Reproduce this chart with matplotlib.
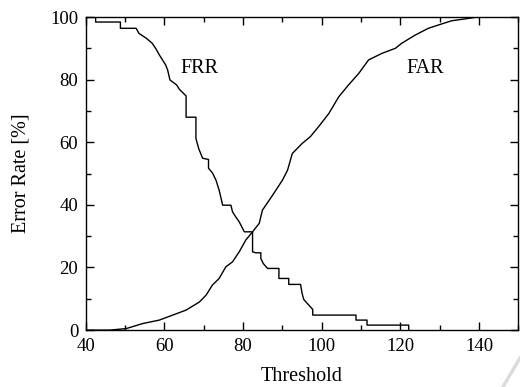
import matplotlib
matplotlib.use("Agg")
import matplotlib.pyplot as plt
from matplotlib.ticker import MultipleLocator
from matplotlib.lines import Line2D

plt.rcParams['font.family'] = ['Liberation Serif', 'DejaVu Serif']

# FRR step curve (threshold, rate %)
frr_x = [40, 42.5, 42.5, 48.8, 48.8, 52.8, 53.5, 55.4, 56.9, 57.9, 58.7, 60.3, 60.8, 61.4, 63.1, 63.8,
         65.5, 65.5, 68.0, 68.0, 68.7, 69.7, 71.2, 71.2, 72.2, 73.1, 73.9, 74.8, 76.9, 77.3, 78.1, 79.0,
         80.3, 82.4, 82.4, 83.2, 84.5, 84.5, 85.1, 86.2, 89.1, 89.1, 91.6, 91.6, 94.6, 95.0, 95.4,
         97.7, 97.7, 98.3, 108.7, 108.7, 111.5, 111.5, 122.1, 122.1]
frr_y = [100, 100, 98.4, 98.4, 96.4, 96.4, 94.8, 93.2, 91.6, 89.7, 87.9, 84.7, 83.1, 79.9, 78.3, 76.9,
         74.8, 68.0, 68.0, 61.2, 58.0, 54.9, 54.5, 51.7, 50.2, 47.9, 44.7, 39.9, 39.9, 37.8, 36.2, 34.6,
         31.4, 31.4, 25.0, 24.7, 24.7, 22.9, 21.3, 19.7, 19.7, 16.5, 16.5, 14.6, 14.6, 11.7, 9.8,
         6.6, 4.8, 4.8, 4.8, 3.2, 3.2, 1.6, 1.6, 0.0]

# FAR curve (threshold, rate %)
far_x = [40, 46.1, 50.3, 54.5, 58.7, 62.1, 65.5, 68.9, 70.6, 72.2, 73.9, 75.6, 77.3, 79.0, 80.7,
         82.4, 84.1, 84.9, 87.5, 90.0, 91.3, 92.5, 95.0, 97.1, 99.2, 101.8, 104.3, 106.8, 109.4,
         111.9, 115.3, 118.7, 120.3, 123.7, 127.1, 130.5, 133.0, 136.4, 139.7, 150]
far_y = [0, 0, 0.5, 2.1, 3.2, 4.8, 6.4, 9.0, 11.2, 14.4, 16.5, 20.2, 21.8, 25.0, 28.8,
         31.4, 34.1, 38.3, 43.1, 47.9, 51.1, 56.4, 59.6, 61.8, 65.0, 69.2, 74.5, 78.3, 82.0,
         86.3, 88.4, 90.0, 91.6, 94.2, 96.4, 97.8, 98.8, 99.4, 100, 100]

fig = plt.figure(figsize=(5.2, 3.87), dpi=100)
ax = fig.add_axes([0.165, 0.147, 0.832, 0.809])

ax.plot(frr_x, frr_y, color='black', lw=1.0)
ax.plot(far_x, far_y, color='black', lw=1.0)

ax.text(69.0, 82.2, 'FRR', fontsize=14.5, ha='center', va='baseline')
ax.text(126.4, 82.2, 'FAR', fontsize=14.5, ha='center', va='baseline')

ax.set_xlim(40, 150)
ax.set_ylim(0, 100)
ax.xaxis.set_major_locator(MultipleLocator(20))
ax.xaxis.set_minor_locator(MultipleLocator(10))
ax.yaxis.set_major_locator(MultipleLocator(20))
ax.yaxis.set_minor_locator(MultipleLocator(10))
ax.tick_params(which='both', direction='in', top=True, right=True, labelsize=13.5, width=1.0)
ax.tick_params(which='major', length=6)
ax.tick_params(which='minor', length=3.5)
ax.tick_params(axis='x', pad=5.5)
ax.tick_params(axis='y', pad=5.5)
for s in ax.spines.values():
    s.set_linewidth(1.0)

ax.set_xlabel('Threshold', fontsize=14.5, labelpad=9)
ax.set_ylabel('Error Rate [%]', fontsize=14.5, labelpad=14)

# faint page-edge stroke at the bottom-right corner of the scan
fig.add_artist(Line2D([0.967, 1.0], [0.0, 0.075], transform=fig.transFigure,
                      color='#dcdcdc', lw=2.5))

fig.savefig('out.png', dpi=100)
